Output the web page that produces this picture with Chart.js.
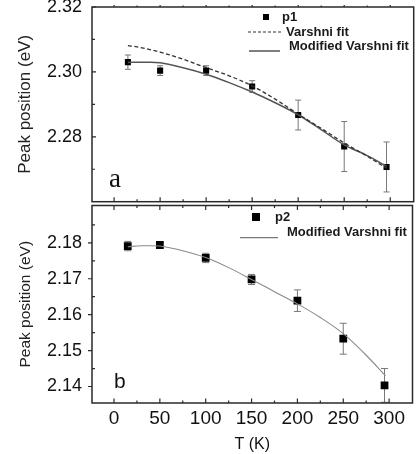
<!DOCTYPE html>
<html>
<head>
<meta charset="utf-8">
<script src="https://cdn.jsdelivr.net/npm/chart.js@4.4.1/dist/chart.umd.min.js"></script>
<style>
  html, body { margin: 0; padding: 0; background: #fff; }
  #wrap { position: relative; width: 418px; height: 454px; overflow: hidden; background: #fff; }
  canvas { position: absolute; left: 0; }
  #ca { top: 0; }
  #cb { top: 200px; }
</style>
</head>
<body>
<div id="wrap">
  <canvas id="ca" width="418" height="206"></canvas>
  <canvas id="cb" width="418" height="254"></canvas>
</div>
<script>
// ---------- data ----------
const tempA = [15, 50, 100, 150, 200, 250, 296];
const peakA = [2.3030, 2.3004, 2.3004, 2.2955, 2.2867, 2.2770, 2.2707];
const errA  = [0.0022, 0.0015, 0.0015, 0.0018, 0.0046, 0.0077, 0.0077];

const fitTempA   = [15, 25, 40, 50, 75, 100, 125, 150, 175, 200, 225, 250, 275, 296];
const varshniA   = [2.3081, 2.3077, 2.3068, 2.3061, 2.3039, 2.3013, 2.2988, 2.2957, 2.2916, 2.2870, 2.2826, 2.2781, 2.2740, 2.2703];
const modVarshA  = [2.3029, 2.3030, 2.3030, 2.3028, 2.3013, 2.2993, 2.2967, 2.2938, 2.2905, 2.2868, 2.2822, 2.2775, 2.2742, 2.2709];

const tempB = [15, 50, 100, 150, 200, 250, 295];
const peakB = [2.1791, 2.1794, 2.1758, 2.1698, 2.1639, 2.1533, 2.1403];
const errB  = [0.0013, 0.0007, 0.0013, 0.0014, 0.0030, 0.0043, 0.0047];

const fitTempB  = [15, 30, 40, 50, 75, 100, 125, 150, 175, 200, 225, 250, 275, 296];
const modVarshB = [2.1789, 2.1792, 2.1792, 2.1791, 2.1778, 2.1759, 2.1731, 2.1698, 2.1664, 2.1630, 2.1592, 2.1547, 2.1487, 2.1430];

const xTicks      = [0, 50, 100, 150, 200, 250, 300];
const xMinorTicks = [25, 75, 125, 175, 225, 275, 325];
const yTicksA      = [2.28, 2.30, 2.32];
const yMinorTicksA = [2.27, 2.29, 2.31];
const yTicksB      = [2.14, 2.15, 2.16, 2.17, 2.18];
const yMinorTicksB = [2.145, 2.155, 2.165, 2.175, 2.185];

const xRange  = [-24, 325.5];
const yRangeA = [2.26, 2.32];
const yRangeB = [2.1354, 2.1904];

const FONT = "'Liberation Sans', Arial, sans-serif";

function pts(xs, ys) { return xs.map((x, i) => ({ x: x, y: ys[i] })); }

// ---------- plugins ----------
const errorBars = {
  id: 'errorBars',
  beforeDatasetsDraw(chart, args, opts) {
    const ctx = chart.ctx, xs = chart.scales.x, ys = chart.scales.y, a = chart.chartArea;
    ctx.save();
    ctx.beginPath(); ctx.rect(a.left, a.top, a.right - a.left, a.bottom - a.top); ctx.clip();
    ctx.strokeStyle = opts.color; ctx.lineWidth = 1;
    opts.x.forEach((t, i) => {
      const px = xs.getPixelForValue(t);
      const y1 = ys.getPixelForValue(opts.y[i] + opts.err[i]);
      const y2 = ys.getPixelForValue(opts.y[i] - opts.err[i]);
      ctx.beginPath();
      ctx.moveTo(px, y1); ctx.lineTo(px, y2);
      ctx.moveTo(px - opts.cap, y1); ctx.lineTo(px + opts.cap, y1);
      ctx.moveTo(px - opts.cap, y2); ctx.lineTo(px + opts.cap, y2);
      ctx.stroke();
    });
    ctx.restore();
  }
};

const frame = {
  id: 'frame',
  afterDraw(chart, args, o) {
    const ctx = chart.ctx, xs = chart.scales.x, ys = chart.scales.y, a = chart.chartArea;
    ctx.save();
    ctx.strokeStyle = '#2a2a2a'; ctx.lineWidth = 1.5;
    ctx.strokeRect(a.left, a.top, a.right - a.left, a.bottom - a.top);
    ctx.lineWidth = 1.2;
    ctx.beginPath();
    o.yMajor.forEach(v => { const p = ys.getPixelForValue(v); ctx.moveTo(a.left + o.yMajorIn, p); ctx.lineTo(a.left - o.yMajorOut, p); });
    o.yMinor.forEach(v => { const p = ys.getPixelForValue(v); if (p > a.top && p < a.bottom) { ctx.moveTo(a.left, p); ctx.lineTo(a.left + 3, p); } });
    xTicks.forEach(v => { const p = xs.getPixelForValue(v); ctx.moveTo(p, a.bottom); ctx.lineTo(p, a.bottom - 4.5); });
    xMinorTicks.forEach(v => { const p = xs.getPixelForValue(v); if (p < a.right - 1) { ctx.moveTo(p, a.bottom); ctx.lineTo(p, a.bottom - 2.5); } });
    xTicks.forEach(v => { const p = xs.getPixelForValue(v); ctx.moveTo(p, a.top); ctx.lineTo(p, a.top + o.topMajor); });
    xMinorTicks.forEach(v => { const p = xs.getPixelForValue(v); if (p < a.right - 1) { ctx.moveTo(p, a.top); ctx.lineTo(p, a.top + o.topMinor); } });
    ctx.stroke();
    ctx.restore();

    ctx.save();
    ctx.textBaseline = 'middle'; ctx.textAlign = 'left';
    ctx.font = 'bold 13px ' + FONT;
    o.legend.forEach(it => {
      if (it.type === 'marker') {
        ctx.fillStyle = '#000';
        ctx.fillRect(it.mx - it.ms / 2, it.my - it.ms / 2, it.ms, it.ms);
      } else {
        ctx.strokeStyle = it.color; ctx.lineWidth = it.width;
        ctx.setLineDash(it.dash || []);
        ctx.beginPath(); ctx.moveTo(it.x1, it.my); ctx.lineTo(it.x2, it.my); ctx.stroke();
        ctx.setLineDash([]);
      }
      ctx.fillStyle = '#1a1a1a';
      ctx.fillText(it.text, it.tx, it.ty);
    });
    ctx.textBaseline = 'alphabetic';
    ctx.font = o.letterFont;
    ctx.fillStyle = '#111';
    ctx.fillText(o.letter, o.letterX, o.letterY);
    ctx.restore();
  }
};

function yAxis(range, ticks, titleSize, titlePad) {
  return {
    type: 'linear', position: 'left', min: range[0], max: range[1],
    afterFit(s) { s.width = 92; s.paddingTop = 0; s.paddingBottom = 0; },
    afterBuildTicks(s) { s.ticks = ticks.map(v => ({ value: v })); },
    grid: { display: false, drawTicks: false },
    border: { display: false },
    ticks: { color: '#111', font: { family: FONT, size: 18 }, padding: 10,
             callback: v => v.toFixed(2), autoSkip: false },
    title: { display: true, text: 'Peak position (eV)', color: '#222',
             font: { family: FONT, size: titleSize }, padding: { top: titlePad, bottom: 0 } }
  };
}

// ---------- panel a ----------
new Chart(document.getElementById('ca'), {
  type: 'scatter',
  data: {
    datasets: [
      { label: 'Varshni fit', data: pts(fitTempA, varshniA), showLine: true, pointRadius: 0,
        borderColor: '#333', borderWidth: 1.3, borderDash: [4, 2.5], cubicInterpolationMode: 'monotone' },
      { label: 'Modified Varshni fit', data: pts(fitTempA, modVarshA), showLine: true, pointRadius: 0,
        borderColor: '#555', borderWidth: 1.5, cubicInterpolationMode: 'monotone' },
      { label: 'p1', data: pts(tempA, peakA), showLine: false, pointStyle: 'rect', pointRadius: 4.3,
        backgroundColor: '#000', borderColor: '#000', borderWidth: 0 }
    ]
  },
  options: {
    responsive: false, animation: false, devicePixelRatio: 1,
    layout: { padding: { top: 7, bottom: 2, left: 0, right: 1 } },
    plugins: {
      legend: { display: false }, tooltip: { enabled: false },
      errorBars: { x: tempA, y: peakA, err: errA, color: '#777', cap: 3 },
      frame: {
        yMajor: yTicksA, yMinor: yMinorTicksA, yMajorIn: 4, yMajorOut: 0,
        topMajor: -2, topMinor: -1.5,
        legend: [
          { type: 'marker', mx: 266, my: 17, ms: 6, text: 'p1', tx: 282, ty: 17 },
          { type: 'line', x1: 248, x2: 282, my: 32, color: '#333', width: 1.2, dash: [3, 2], text: 'Varshni fit', tx: 286, ty: 32 },
          { type: 'line', x1: 249, x2: 280, my: 51, color: '#555', width: 1.5, text: 'Modified Varshni fit', tx: 289, ty: 46 }
        ],
        letter: 'a', letterFont: '27px "Liberation Serif", "Times New Roman", serif', letterX: 109, letterY: 187
      }
    },
    scales: {
      x: { type: 'linear', display: false, min: xRange[0], max: xRange[1],
           afterFit(s) { s.paddingLeft = 0; s.paddingRight = 0; } },
      y: yAxis(yRangeA, yTicksA, 17, 15)
    }
  },
  plugins: [errorBars, frame]
});

// ---------- panel b ----------
new Chart(document.getElementById('cb'), {
  type: 'scatter',
  data: {
    datasets: [
      { label: 'Modified Varshni fit', data: pts(fitTempB, modVarshB), showLine: true, pointRadius: 0,
        borderColor: '#8a8a8a', borderWidth: 1.1, cubicInterpolationMode: 'monotone' },
      { label: 'p2', data: pts(tempB, peakB), showLine: false, pointStyle: 'rect', pointRadius: 5.5,
        backgroundColor: '#000', borderColor: '#000', borderWidth: 0 }
    ]
  },
  options: {
    responsive: false, animation: false, devicePixelRatio: 1,
    layout: { padding: { top: 4, bottom: 0, left: 0, right: 1 } },
    plugins: {
      legend: { display: false }, tooltip: { enabled: false },
      errorBars: { x: tempB, y: peakB, err: errB, color: '#777', cap: 3.5 },
      frame: {
        yMajor: yTicksB, yMinor: yMinorTicksB, yMajorIn: 0, yMajorOut: 4,
        topMajor: 4.5, topMinor: 2.5,
        legend: [
          { type: 'marker', mx: 256, my: 17, ms: 8, text: 'p2', tx: 275, ty: 17 },
          { type: 'line', x1: 240, x2: 278, my: 37.7, color: '#777', width: 1.3, text: 'Modified Varshni fit', tx: 287, ty: 32.5 }
        ],
        letter: 'b', letterFont: '21px ' + FONT, letterX: 114, letterY: 188
      }
    },
    scales: {
      x: {
        type: 'linear', position: 'bottom', min: xRange[0], max: xRange[1],
        afterFit(s) { s.height = 51; s.paddingLeft = 0; s.paddingRight = 0; },
        afterBuildTicks(s) { s.ticks = xTicks.map(v => ({ value: v })); },
        grid: { display: false, drawTicks: false },
        border: { display: false },
        ticks: { color: '#111', font: { family: FONT, size: 19 }, padding: 4, autoSkip: false, maxRotation: 0 },
        title: { display: true, text: 'T (K)', color: '#111', font: { family: FONT, size: 16 }, padding: { top: 0, bottom: 0 } }
      },
      y: yAxis(yRangeB, yTicksB, 15.5, 16)
    }
  },
  plugins: [errorBars, frame]
});
</script>
</body>
</html>
